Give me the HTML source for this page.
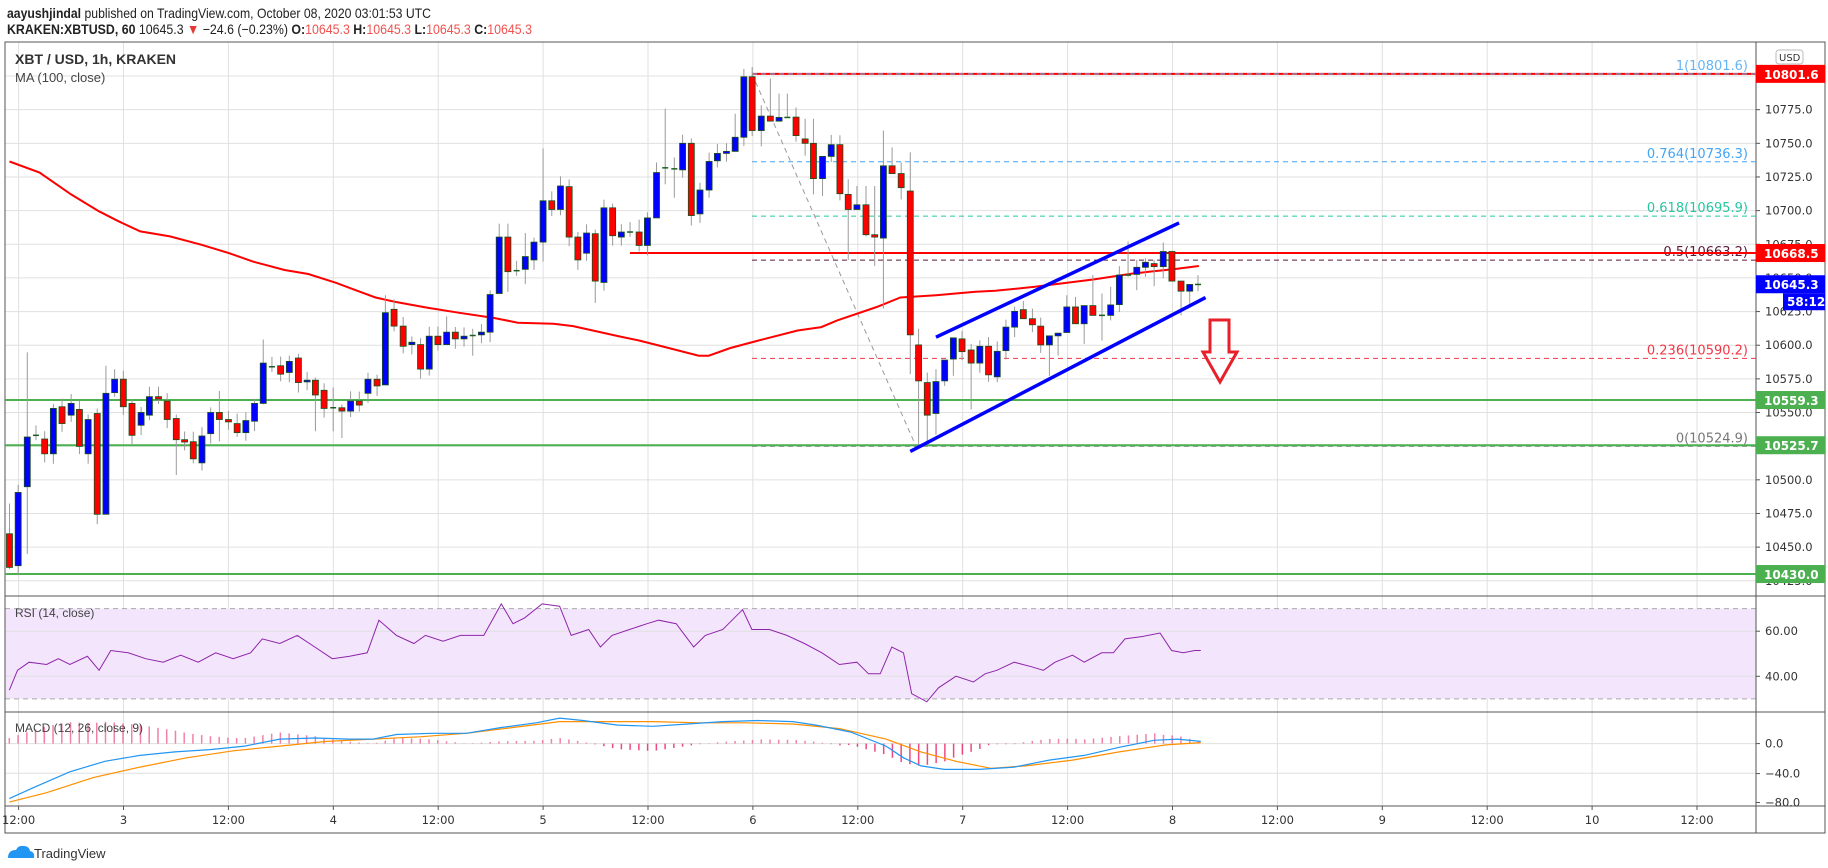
<!DOCTYPE html>
<html><head><meta charset="utf-8"><style>
html,body{margin:0;padding:0;background:#fff;}
svg{display:block;font-family:"Liberation Sans",sans-serif;}
</style></head><body>
<svg id="s" width="1828" height="868" viewBox="0 0 1828 868" xmlns="http://www.w3.org/2000/svg">
<rect width="1828" height="868" fill="#fff"/>
<text x="7" y="18" font-size="14" fill="#222" textLength="424" lengthAdjust="spacingAndGlyphs"><tspan font-weight="bold">aayushjindal</tspan> published on TradingView.com, October 08, 2020 03:01:53 UTC</text>
<text x="7" y="34" font-size="14" fill="#222" textLength="525" lengthAdjust="spacingAndGlyphs"><tspan font-weight="bold">KRAKEN:XBTUSD, 60</tspan> 10645.3 <tspan fill="#e53935">▼</tspan> −24.6 (−0.23%) <tspan font-weight="bold">O:</tspan><tspan fill="#ef5350">10645.3</tspan> <tspan font-weight="bold">H:</tspan><tspan fill="#ef5350">10645.3</tspan> <tspan font-weight="bold">L:</tspan><tspan fill="#ef5350">10645.3</tspan> <tspan font-weight="bold">C:</tspan><tspan fill="#ef5350">10645.3</tspan></text>
<g id="g"></g>
</svg>
<script>
const NS="http://www.w3.org/2000/svg",G=document.getElementById('g');
function el(t,a,txt){const e=document.createElementNS(NS,t);for(const k in a)e.setAttribute(k,a[k]);if(txt!=null)e.textContent=txt;G.appendChild(e);return e;}
const L=5,R=1756,RB=1825,T=42,MB=596,RSB=712,MCB=806,TB=833;
const yp=p=>400+(10559.3-p)*1.346;
for(let p=10425;p<=10800;p+=25){el('line',{x1:L,x2:R,y1:yp(p),y2:yp(p),stroke:'#e0e0e0','stroke-width':1});}
const vx=[];for(let i=0;i<17;i++)vx.push(18.6+i*104.9);
vx.forEach(x=>{el('line',{x1:x,x2:x,y1:T,y2:MCB,stroke:'#e0e0e0','stroke-width':1});});
const yr=v=>631.2+(60-v)*2.255;
el('rect',{x:L,y:yr(70),width:R-L,height:yr(30)-yr(70),fill:'#f3e6fc'});
[70,30].forEach(v=>el('line',{x1:L,x2:R,y1:yr(v),y2:yr(v),stroke:'#aaa','stroke-dasharray':'5,4'}));
[60,40].forEach(v=>el('line',{x1:L,x2:R,y1:yr(v),y2:yr(v),stroke:'#e0e0e0'}));
const ym=v=>743.6-v*0.74;
[0,-40].forEach(v=>el('line',{x1:L,x2:R,y1:ym(v),y2:ym(v),stroke:'#e0e0e0'}));
el('rect',{x:L,y:T,width:RB-L,height:TB-T,fill:'none',stroke:'#555','stroke-width':1});
el('line',{x1:R,x2:R,y1:T,y2:TB,stroke:'#555'});
[MB,RSB,MCB].forEach(y=>el('line',{x1:L,x2:RB,y1:y,y2:y,stroke:'#555'}));
el('line',{x1:752,x2:R,y1:yp(10801.6),y2:yp(10801.6),stroke:'#ff0000','stroke-width':2});
const fib=[[1,10801.6,'#64b5f6','1(10801.6)'],[0.764,10736.3,'#42a5f5','0.764(10736.3)'],[0.618,10695.9,'#26c6a0','0.618(10695.9)'],[0.5,10663.2,'#5d1a3a','0.5(10663.2)'],[0.236,10590.2,'#f23645','0.236(10590.2)'],[0,10524.9,'#777','0(10524.9)']];
fib.forEach(f=>{el('line',{x1:752,x2:R,y1:yp(f[1]),y2:yp(f[1]),stroke:f[2],'stroke-width':1,'stroke-dasharray':'5,4'});
el('text',{x:1748,y:yp(f[1])-4,'font-size':13,fill:f[2],'text-anchor':'end','font-family':'DejaVu Sans, sans-serif'},f[3]);});
el('line',{x1:752,y1:yp(10801.6),x2:916,y2:yp(10524.9),stroke:'#999','stroke-width':1,'stroke-dasharray':'5,4'});
el('line',{x1:630,x2:R,y1:yp(10668.5),y2:yp(10668.5),stroke:'#ff0000','stroke-width':2});
[10559.3,10525.7,10430].forEach(p=>el('line',{x1:L,x2:R,y1:yp(p),y2:yp(p),stroke:'#4caf50','stroke-width':2}));
const ma3=[[24,307],[100,340],[180,405],[250,455],[300,485],[355,515],[430,530],[510,555],[580,580],[640,605],[720,630],[780,642],[850,668],[900,690],[950,712],[1000,725],[1080,742],[1160,757],[1250,773],[1310,787],[1400,790],[1450,797],[1568,828]];
const ma4=[[100,840],[150,855],[250,885],[275,885],[330,862],[400,840],[500,810],[560,800],[600,780],[700,740],[760,712],[850,705],[950,695],[1000,692],[1100,680],[1250,658],[1350,640],[1450,628],[1515,618]];
const X3=z=>z/2.53,X4=z=>600+z/2.53,Y=z=>58.3+z/2.976;
let d='M'+ma3.map(p=>X3(p[0]).toFixed(1)+','+Y(p[1]).toFixed(1)).join(' L')+' L'+ma4.map(p=>X4(p[0]).toFixed(1)+','+Y(p[1]).toFixed(1)).join(' L');
el('path',{d:d,fill:'none',stroke:'#ff0000','stroke-width':2});
const c3=[[24,1415,1515,'r',1325,1520],[46,1292,1510,'b'],[69,1127,1275,'b',875,1475],[91,1122,1122,'d'],[113,1133,1177,'r'],[135,1042,1177,'b'],[157,1037,1087,'r'],[180,1027,1062,'b'],[201,1045,1155,'r'],[223,1075,1177,'b'],[246,1057,1357,'r'],[268,997,1357,'b',915,1357],[290,955,995,'b'],[312,955,1037,'r'],[334,1027,1122,'r'],[357,1054,1092,'b'],[378,1007,1062,'b'],[401,1007,1014,'r'],[423,1020,1075,'r'],[446,1072,1135,'r',1060,1240],[467,1135,1142,'r'],[489,1141,1192,'r'],[511,1124,1204,'b'],[533,1054,1117,'b'],[555,1054,1075,'r',990,1140],[578,1075,1082,'r'],[600,1087,1114,'r'],[622,1078,1114,'b'],[644,1027,1080,'b'],[666,907,1027,'b',837,1030],[688,918,918,'d'],[710,915,940,'r'],[732,902,935,'b'],[755,892,965,'r'],[777,958,963,'b'],[798,958,1002,'r',950,1110],[820,988,1042,'r'],[843,1040,1040,'d',980,1110],[865,1040,1050,'r',1030,1130],[887,1020,1050,'b'],[909,1020,1032,'r'],[931,955,997,'b'],[954,955,975,'r'],[975,757,972,'b',705,972],[997,747,797,'r'],[1020,797,857,'r'],[1042,845,852,'b'],[1064,852,925,'r'],[1086,827,925,'b'],[1108,827,852,'r'],[1130,815,852,'b',768,852],[1152,815,835,'r'],[1174,827,835,'b'],[1196,825,825,'d',805,885],[1218,815,823,'b'],[1240,703,815,'b'],[1263,532,700,'b',492,700],[1285,532,635,'r',492,695],[1307,632,632,'d'],[1329,590,628,'b',520,672],[1351,547,600,'b'],[1374,424,547,'b',268,605],[1396,424,450,'r'],[1418,380,450,'b'],[1440,382,532,'r'],[1462,532,600,'r'],[1484,520,580,'b'],[1506,522,663,'r',510,728],[1528,445,667,'b'],[1550,445,528,'r']];
const c4=[[54,517,532,'b'],[76,517,517,'d'],[99,517,557,'r',480,575],[120,475,557,'b'],[143,340,475,'b',310,475],[165,326,326,'d',150,375],[188,329,329,'d',295,415],[209,253,332,'b'],[231,253,468,'r'],[253,392,463,'b'],[276,307,392,'b'],[297,283,305,'b'],[320,277,283,'b'],[342,235,277,'b',165,277],[364,55,235,'b'],[385,55,215,'r'],[408,172,215,'b',140,262],[431,172,187,'r',60,187],[453,176,187,'b',105,187],[474,176,176,'d',105,176],[496,175,230,'r'],[519,240,253,'r',180,290],[540,253,358,'r',180,405],[563,292,358,'b',292,410],[585,257,292,'b'],[607,257,403,'r'],[628,405,450,'r',360,600],[650,436,450,'b',380,450],[673,436,525,'r',380,530],[695,525,532,'r',380,618],[717,320,535,'b',215,745],[739,320,343,'r',265,343],[762,343,385,'r',310,420],[785,395,823,'r',280,940],[806,853,960,'r',805,1150],[828,965,1062,'r',935,1150],[850,962,1057,'b',925,1120],[872,898,960,'b',898,975],[894,832,895,'b',832,945],[916,835,873,'r'],[939,868,907,'r',850,1045],[961,857,907,'b'],[983,857,942,'r'],[1005,872,948,'b'],[1027,800,870,'b'],[1049,753,800,'b'],[1071,748,775,'r',722,775],[1094,775,793,'r',745,815],[1115,797,853,'r'],[1137,826,853,'b',826,945],[1159,818,826,'b',818,885],[1181,740,816,'b',705,816],[1203,740,790,'r',710,790],[1225,736,790,'b',736,850],[1247,736,765,'r',645,765],[1270,765,765,'d',700,840],[1292,734,765,'b',680,780],[1314,645,733,'b'],[1336,645,645,'d',545,650],[1358,622,643,'b',600,690],[1380,607,622,'b',595,650],[1402,611,620,'r',600,678],[1425,575,620,'b',548,655],[1447,575,663,'r',575,663],[1470,663,693,'r',663,765],[1492,673,693,'b',673,730],[1513,673,673,'d']];
function cand(x,c){const t=Y(c[1]),b=Y(c[2]);const hi=c[4]!=null?Y(c[4]):t-4-(Math.abs(Math.sin(x))*6),lo=c[5]!=null?Y(c[5]):b+4+(Math.abs(Math.cos(x))*6);
el('line',{x1:x,x2:x,y1:hi,y2:lo,stroke:'#9a9a9a','stroke-width':1});
if(c[3]=='d'){el('line',{x1:x-3,x2:x+3,y1:t,y2:t,stroke:'#1b5e20','stroke-width':1.5});return;}
el('rect',{x:x-3,y:t,width:6,height:Math.max(b-t,1.5),fill:c[3]=='r'?'#ff0000':'#0000ff',stroke:'#1b4d1b','stroke-width':0.8});}
c3.forEach(c=>cand(X3(c[0]),c));c4.forEach(c=>cand(X4(c[0]),c));
el('line',{x1:X4(850),y1:Y(830),x2:X4(1465),y2:Y(490),stroke:'#0000ff','stroke-width':3.5});
el('line',{x1:X4(785),y1:Y(1170),x2:X4(1532),y2:Y(712),stroke:'#0000ff','stroke-width':3.5});
el('path',{d:'M1210,320 L1229,320 L1229,352 L1237,352 L1220,382 L1203,352 L1210,352 Z',fill:'none',stroke:'#e8202a','stroke-width':3});
const k=1.1658;
const rsi=[[8,592],[15,575],[25,568],[40,570],[50,565],[60,570],[75,563],[85,575],[95,558],[110,560],[125,565],[140,568],[155,562],[170,568],[185,560],[200,565],[215,560],[225,548],[240,552],[255,545],[270,555],[285,565],[300,563],[315,560],[325,532],[340,545],[355,552],[365,545],[380,550],[395,545],[415,545],[430,518],[440,535],[450,530],[465,518],[480,520],[490,545],[505,540],[515,555],[525,545],[540,540],[555,535],[565,532],[580,535],[595,555],[605,545],[620,540],[637,523],[645,540],[660,540],[675,545],[690,552],[705,560],[720,570],[735,568],[745,578],[755,578],[765,555],[775,560],[782,595],[795,602],[805,590],[820,580],[835,585],[845,578],[855,575],[870,568],[885,572],[895,575],[905,568],[920,562],[930,568],[945,560],[955,560],[965,548],[980,546],[995,543],[1005,558],[1015,560],[1025,558],[1030,558]];
el('path',{d:'M'+rsi.map(p=>(p[0]*k).toFixed(1)+','+(p[1]*k).toFixed(1)).join(' L'),fill:'none',stroke:'#8e24aa','stroke-width':1});
const mb=[[8,685],[30,675],[60,662],[90,653],[120,648],[150,645],[180,643],[210,640],[240,634],[270,633],[300,634],[320,634],[340,630],[370,629],[400,629],[430,624],[460,620],[480,616],[500,618],[530,622],[560,623],[590,621],[620,619],[650,618],[680,619],[700,622],[730,628],[760,640],[775,650],[790,657],[810,660],[840,660],[870,658],[900,652],[930,648],[960,641],[990,635],[1010,634],[1030,636]];
const mo=[[8,688],[40,680],[80,667],[120,658],[160,650],[200,644],[240,640],[280,636],[320,634],[360,632],[400,629],[440,624],[480,619],[520,619],[560,619],[600,620],[640,620],[680,621],[720,625],[760,634],[790,645],[820,653],[850,659],[880,657],[920,652],[960,645],[1000,639],[1030,637]];
function interp(a,x){for(let i=1;i<a.length;i++)if(x<=a[i][0]){const t=(x-a[i-1][0])/(a[i][0]-a[i-1][0]);return a[i-1][1]+t*(a[i][1]-a[i-1][1]);}return a[a.length-1][1];}
const zero=743.6;
for(let x=8;x<=1030;x+=7.5){const dv=(interp(mo,x)-interp(mb,x))*k*1.6;const X=x*k;
el('line',{x1:X,x2:X,y1:zero,y2:zero-dv,stroke:dv>0?'#f06292':'#e91e63','stroke-width':1.5,opacity:0.8});}
el('path',{d:'M'+mo.map(p=>(p[0]*k).toFixed(1)+','+(p[1]*k).toFixed(1)).join(' L'),fill:'none',stroke:'#ff8f00','stroke-width':1.2});
el('path',{d:'M'+mb.map(p=>(p[0]*k).toFixed(1)+','+(p[1]*k).toFixed(1)).join(' L'),fill:'none',stroke:'#2196f3','stroke-width':1.2});
el('text',{x:15,y:64,'font-size':14,'font-weight':'bold',fill:'#333'},'XBT / USD, 1h, KRAKEN');
el('text',{x:15,y:82,'font-size':13,fill:'#444'},'MA (100, close)');
el('text',{x:15,y:617,'font-size':12,fill:'#444'},'RSI (14, close)');
el('text',{x:15,y:732,'font-size':12,fill:'#444'},'MACD (12, 26, close, 9)');
const af='DejaVu Sans, sans-serif';
for(let p=10425;p<=10775;p+=25){const y=yp(p);el('line',{x1:R,x2:R+4,y1:y,y2:y,stroke:'#555'});el('text',{x:R+9,y:y+4,'font-size':11.5,fill:'#333','font-family':af},p.toFixed(1));}
function box(p,col,txt,dy){const y=yp(p)+(dy||0);el('rect',{x:R,y:y-9,width:RB-R,height:18,fill:col});el('text',{x:R+8,y:y+5,'font-size':12,'font-weight':'bold',fill:'#fff','font-family':af},txt);}
box(10801.6,'#ff0000','10801.6');box(10668.5,'#ff0000','10668.5');box(10645.3,'#0000ff','10645.3');
el('rect',{x:R+27,y:yp(10645.3)+9,width:RB-R-27,height:17,fill:'#0000ff'});el('text',{x:R+31,y:yp(10645.3)+22,'font-size':12,'font-weight':'bold',fill:'#fff','font-family':af},'58:12');
box(10559.3,'#4caf50','10559.3');box(10525.7,'#4caf50','10525.7');box(10430,'#4caf50','10430.0');
el('rect',{x:R+20,y:50,width:27,height:14,rx:3,fill:'#fff',stroke:'#bbb'});el('text',{x:R+23,y:61,'font-size':10,fill:'#333','font-family':af},'USD');
[[60,631.2],[40,676.3]].forEach(v=>{el('line',{x1:R,x2:R+4,y1:v[1],y2:v[1],stroke:'#555'});el('text',{x:R+9,y:v[1]+4,'font-size':11.5,fill:'#333','font-family':af},v[0].toFixed(2));});
[['0.0',743.6],['−40.0',773.6],['−80.0',802.5]].forEach(v=>{el('line',{x1:R,x2:R+4,y1:v[1],y2:v[1],stroke:'#555'});el('text',{x:R+9,y:v[1]+4,'font-size':11.5,fill:'#333','font-family':af},v[0]);});
const tl=['12:00','3','12:00','4','12:00','5','12:00','6','12:00','7','12:00','8','12:00','9','12:00','10','12:00'];
vx.forEach((x,i)=>{el('line',{x1:x,x2:x,y1:MCB,y2:MCB+4,stroke:'#555'});el('text',{x:x,y:824,'font-size':11.5,fill:'#333','text-anchor':'middle','font-family':af},tl[i]);});
el('path',{d:'M8,858 q0,-8 8,-8 q2,-5 8,-4 q5,0 6,5 q5,1 4,7 z',fill:'#2196f3'});
el('text',{x:34,y:858,'font-size':13,fill:'#333'},'TradingView');
</script>
</body></html>
